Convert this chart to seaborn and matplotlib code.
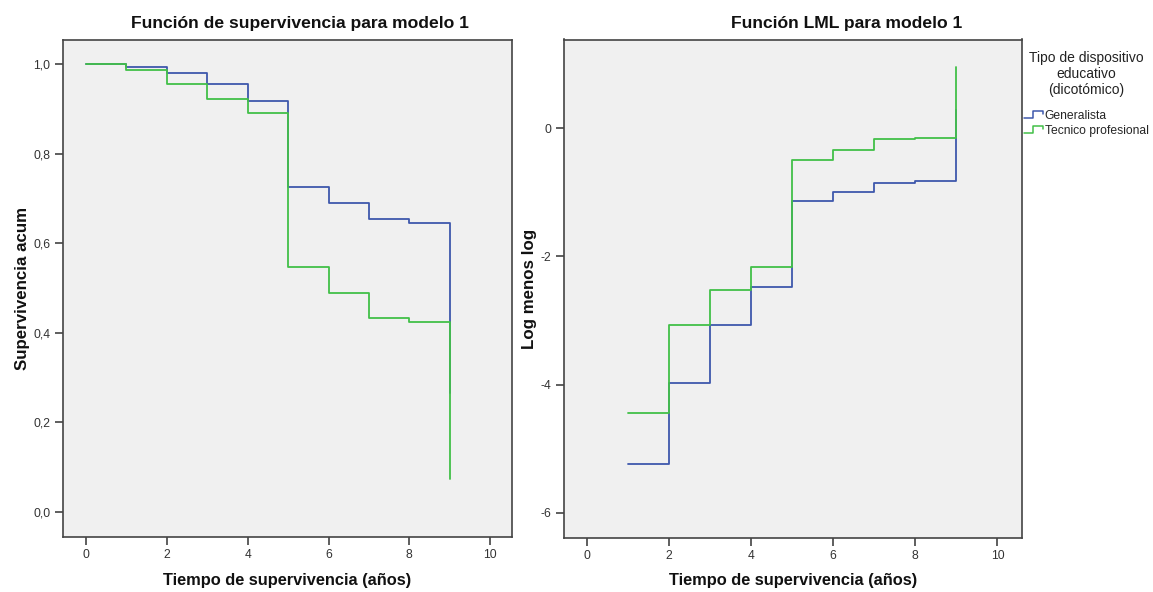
import numpy as np
import pandas as pd
import matplotlib
matplotlib.use("Agg")
import matplotlib.pyplot as plt
import seaborn as sns
from matplotlib.lines import Line2D
from matplotlib.legend_handler import HandlerBase

# ---------------- data ----------------
groups = ["Generalista", "Tecnico profesional"]
times_surv = [0, 1, 2, 3, 4, 5, 6, 7, 8, 9]
surv_gen = [1.0, 0.993, 0.981, 0.955, 0.917, 0.726, 0.690, 0.654, 0.645, 0.265]
surv_tec = [1.0, 0.988, 0.955, 0.922, 0.892, 0.546, 0.490, 0.433, 0.425, 0.074]
times_lml = [1, 2, 3, 4, 5, 6, 7, 8, 9]
lml_gen = [-5.24, -3.98, -3.07, -2.47, -1.13, -0.99, -0.85, -0.82, 0.28]
lml_tec = [-4.45, -3.07, -2.52, -2.17, -0.50, -0.34, -0.17, -0.15, 0.96]
xticks = [0, 2, 4, 6, 8, 10]
yticks_surv = [0.0, 0.2, 0.4, 0.6, 0.8, 1.0]
yticks_surv_labels = ["0,0", "0,2", "0,4", "0,6", "0,8", "1,0"]
yticks_lml = [-6, -4, -2, 0]
yticks_lml_labels = ["-6", "-4", "-2", "0"]

df_surv = pd.DataFrame({
    "t": times_surv * 2,
    "v": surv_gen + surv_tec,
    "g": [groups[0]] * len(times_surv) + [groups[1]] * len(times_surv),
})
df_lml = pd.DataFrame({
    "t": times_lml * 2,
    "v": lml_gen + lml_tec,
    "g": [groups[0]] * len(times_lml) + [groups[1]] * len(times_lml),
})

colors = {"Generalista": "#3E58AC", "Tecnico profesional": "#42C048"}

sns.set_theme(style="white")
plt.rcParams["font.family"] = ["Liberation Sans", "DejaVu Sans"]

fig = plt.figure(figsize=(11.53, 5.92), dpi=100)
ax1 = fig.add_axes([63 / 1153, 1 - 537 / 592, (512 - 63) / 1153, (537 - 40) / 592])
ax2 = fig.add_axes([564 / 1153, 1 - 537.7 / 592, (1021.7 - 564) / 1153, (537.7 - 39.5) / 592])

for ax, df in ((ax1, df_surv), (ax2, df_lml)):
    sns.lineplot(data=df, x="t", y="v", hue="g", hue_order=groups, palette=colors,
                 estimator=None, drawstyle="steps-post", linewidth=1.3,
                 legend=False, ax=ax)
    ax.set_facecolor("#F0F0F0")
    for s in ax.spines.values():
        s.set_color("#444444")
        s.set_linewidth(1.2)
    ax.set_xticks(xticks)
    ax.set_xticklabels([str(x) for x in xticks])
    ax.tick_params(axis="both", which="both", direction="out", length=6, width=1.1,
                   color="#333333", labelsize=8.7, labelcolor="#333333", pad=3,
                   bottom=True, left=True)
    ax.set_xlabel("Tiempo de supervivencia (años)", fontsize=11.8, fontweight="bold",
                  labelpad=8.0, color="#111111")

ax1.set_xlim(-0.57, 10.54)
ax1.set_ylim(-0.056, 1.054)
ax1.set_yticks(yticks_surv)
ax1.set_yticklabels(yticks_surv_labels)
ax1.set_ylabel("Supervivencia acum", fontsize=12.2, fontweight="bold", labelpad=2.5, color="#111111")
ax1.set_title("Función de supervivencia para modelo 1", fontsize=12.6, fontweight="bold",
              pad=8.5, color="#111111", x=(300 - 63) / 449)

ax2.set_xlim(-0.55, 10.59)
ax2.set_ylim(-6.39, 1.386)
ax2.set_yticks(yticks_lml)
ax2.set_yticklabels(yticks_lml_labels)
ax2.set_ylabel("Log menos log", fontsize=12.2, fontweight="bold", labelpad=2.5, color="#111111")
ax2.set_title("Función LML para modelo 1", fontsize=12.6, fontweight="bold",
              pad=8.5, color="#111111", x=(847 - 564) / 457.7)


class StepHandler(HandlerBase):
    def create_artists(self, legend, orig_handle, xdescent, ydescent, width, height,
                       fontsize, trans):
        x0, x1 = -xdescent, -xdescent + width
        ylo, yhi = -ydescent + 0.1 * height, -ydescent + 0.9 * height
        xm = x0 + 0.45 * width
        xs = [x0, xm, xm, x1, x1]
        ys = [ylo, ylo, yhi, yhi, yhi - 0.35 * height]
        ln = Line2D(xs, ys, color=orig_handle.get_color(), lw=1.1, transform=trans)
        return [ln]


handles = [Line2D([0], [0], color=colors[g]) for g in groups]
leg = fig.legend(handles, groups, loc="upper left",
                 bbox_to_anchor=(1024 / 1153, 1 - 51 / 592),
                 frameon=False, fontsize=8.75, handlelength=1.6, handletextpad=0.1,
                 labelspacing=0.25, borderaxespad=0, borderpad=0,
                 title="Tipo de dispositivo\neducativo\n(dicotómico)",
                 title_fontsize=10, handler_map={Line2D: StepHandler()})
leg.get_title().set_multialignment("center")
leg.get_title().set_color("#222222")
leg._legend_box.sep = 9

fig.savefig("out.png", dpi=100)
